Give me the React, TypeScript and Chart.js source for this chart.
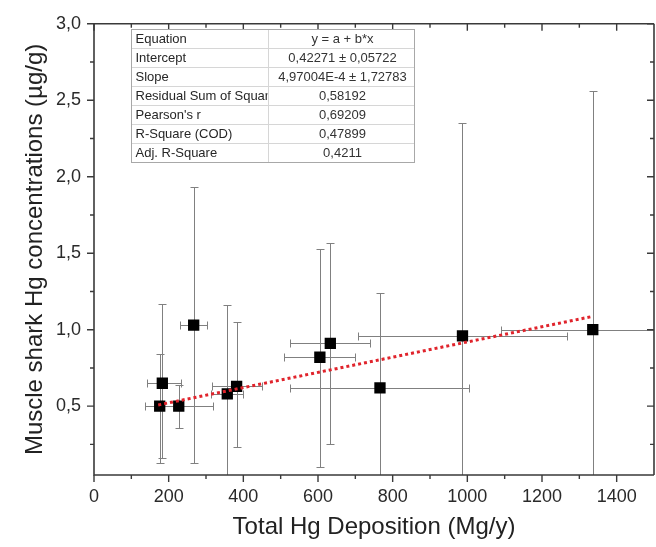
import React, { useEffect, useRef } from "react";
import { Chart, registerables } from "chart.js";

Chart.register(...registerables);

// ---- data ----
const depositionX = [176, 183, 227, 267, 357, 382, 605, 633, 766, 987, 1336];
const sharkHgY = [0.5, 0.65, 0.5, 1.03, 0.58, 0.63, 0.82, 0.91, 0.62, 0.96, 1.0];
const xErrLow = [137, 141, 180, 231, 313, 316, 510, 526, 526, 707, 1091];
const xErrHigh = [215, 234, 318, 303, 398, 450, 698, 740, 1004, 1268, 1700];
const yErrLow = [0.13, 0.16, 0.36, 0.13, 0.0, 0.23, 0.1, 0.25, 0.0, 0.0, 0.0];
const yErrHigh = [0.84, 1.17, 0.64, 1.93, 1.16, 1.05, 1.53, 1.57, 1.24, 2.35, 2.56];

const fitX = [172, 1336];
const fitY = [0.508, 1.087];

const xMajorTicks = [0, 200, 400, 600, 800, 1000, 1200, 1400];
const xMinorTicks = [100, 300, 500, 700, 900, 1100, 1300];
const yMajorTicks = [0.5, 1.0, 1.5, 2.0, 2.5, 3.0];
const yMinorTicks = [0.25, 0.75, 1.25, 1.75, 2.25, 2.75];

const tableLabels = [
  "Equation",
  "Intercept",
  "Slope",
  "Residual Sum of Squares",
  "Pearson's r",
  "R-Square (COD)",
  "Adj. R-Square",
];
const tableValues = [
  "y = a + b*x",
  "0,42271 ± 0,05722",
  "4,97004E-4 ± 1,72783",
  "0,58192",
  "0,69209",
  "0,47899",
  "0,4211",
];

const FONT = "'Liberation Sans', Arial, Helvetica, sans-serif";

const framePlugin = {
  id: "originFrame",
  beforeDatasetsDraw(chart: any) {
    const { ctx, chartArea } = chart;
    const xs = chart.scales.x;
    const ys = chart.scales.y;
    ctx.save();
    ctx.beginPath();
    ctx.rect(chartArea.left, chartArea.top, chartArea.right - chartArea.left, chartArea.bottom - chartArea.top);
    ctx.clip();
    ctx.strokeStyle = "#808080";
    ctx.lineWidth = 1;
    const cap = 4;
    for (let i = 0; i < depositionX.length; i++) {
      const px = Math.round(xs.getPixelForValue(depositionX[i])) + 0.5;
      const py = Math.round(ys.getPixelForValue(sharkHgY[i])) + 0.5;
      const x0 = Math.round(xs.getPixelForValue(xErrLow[i])) + 0.5;
      const x1 = Math.round(xs.getPixelForValue(xErrHigh[i])) + 0.5;
      const y0 = Math.round(ys.getPixelForValue(yErrLow[i])) + 0.5;
      const y1 = Math.round(ys.getPixelForValue(yErrHigh[i])) + 0.5;
      ctx.beginPath();
      ctx.moveTo(px, y0);
      ctx.lineTo(px, y1);
      ctx.moveTo(px - cap, y0);
      ctx.lineTo(px + cap, y0);
      ctx.moveTo(px - cap, y1);
      ctx.lineTo(px + cap, y1);
      ctx.moveTo(x0, py);
      ctx.lineTo(x1, py);
      ctx.moveTo(x0, py - cap);
      ctx.lineTo(x0, py + cap);
      ctx.moveTo(x1, py - cap);
      ctx.lineTo(x1, py + cap);
      ctx.stroke();
    }
    ctx.restore();
  },
  afterDraw(chart: any) {
    const { ctx, chartArea } = chart;
    const xs = chart.scales.x;
    const ys = chart.scales.y;
    const L = chartArea.left, R = chartArea.right, T = chartArea.top, B = chartArea.bottom;
    ctx.save();
    // frame
    ctx.strokeStyle = "#3a3a3a";
    ctx.lineWidth = 1.6;
    ctx.beginPath();
    ctx.moveTo(L, B);
    ctx.lineTo(R, B);
    ctx.moveTo(L, T);
    ctx.lineTo(R, T);
    ctx.moveTo(L, T);
    ctx.lineTo(L, B + 0.8);
    ctx.moveTo(R, T);
    ctx.lineTo(R, B);
    ctx.stroke();
    // ticks
    ctx.lineWidth = 1.4;
    const major = 7, minor = 4;
    ctx.beginPath();
    for (const v of xMajorTicks) {
      const p = xs.getPixelForValue(v);
      ctx.moveTo(p, B); ctx.lineTo(p, B + major);
      ctx.moveTo(p, T); ctx.lineTo(p, T + major);
    }
    for (const v of xMinorTicks) {
      const p = xs.getPixelForValue(v);
      ctx.moveTo(p, B); ctx.lineTo(p, B + minor);
      ctx.moveTo(p, T); ctx.lineTo(p, T + minor);
    }
    for (const v of yMajorTicks) {
      const p = ys.getPixelForValue(v);
      ctx.moveTo(L, p); ctx.lineTo(L - major, p);
      ctx.moveTo(R, p); ctx.lineTo(R - major, p);
    }
    for (const v of yMinorTicks) {
      const p = ys.getPixelForValue(v);
      ctx.moveTo(L, p); ctx.lineTo(L - minor, p);
      ctx.moveTo(R, p); ctx.lineTo(R - minor, p);
    }
    ctx.stroke();

    // statistics table
    const tx0 = 131.5, tx1 = 414.5, tDiv = 268.5, ty0 = 29.5, rowH = 19;
    const n = tableLabels.length;
    const ty1 = ty0 + rowH * n;
    ctx.fillStyle = "#ffffff";
    ctx.fillRect(tx0, ty0, tx1 - tx0, ty1 - ty0);
    ctx.lineWidth = 1;
    ctx.strokeStyle = "#d6d6d6";
    ctx.beginPath();
    for (let i = 1; i < n; i++) {
      ctx.moveTo(tx0, ty0 + i * rowH);
      ctx.lineTo(tx1, ty0 + i * rowH);
    }
    ctx.moveTo(tDiv, ty0);
    ctx.lineTo(tDiv, ty1);
    ctx.stroke();
    ctx.strokeStyle = "#a8a8a8";
    ctx.strokeRect(tx0, ty0, tx1 - tx0, ty1 - ty0);
    ctx.font = `13px ${FONT}`;
    ctx.textBaseline = "middle";
    for (let i = 0; i < n; i++) {
      const cy = ty0 + i * rowH + rowH / 2 + 0.5;
      ctx.save();
      ctx.beginPath();
      ctx.rect(tx0, ty0 + i * rowH, tDiv - tx0 - 1, rowH);
      ctx.clip();
      ctx.fillStyle = "#262626";
      ctx.textAlign = "left";
      ctx.fillText(tableLabels[i], tx0 + 4, cy);
      ctx.restore();
      ctx.fillStyle = "#333333";
      ctx.textAlign = "center";
      ctx.fillText(tableValues[i], (tDiv + tx1) / 2 + 1, cy);
    }
    ctx.restore();
  },
};

export default function App() {
  const ref = useRef<HTMLCanvasElement | null>(null);
  useEffect(() => {
    if (!ref.current) return;
    const chart = new Chart(ref.current, {
      type: "scatter",
      data: {
        datasets: [
          {
            type: "line",
            label: "fit",
            data: fitX.map((x, i) => ({ x, y: fitY[i] })),
            borderColor: "#e0242c",
            borderWidth: 3,
            borderDash: [3, 3],
            pointRadius: 0,
            fill: false,
            order: 0,
          } as any,
          {
            type: "scatter",
            label: "data",
            data: depositionX.map((x, i) => ({ x, y: sharkHgY[i] })),
            pointStyle: "rect",
            pointRadius: 8,
            backgroundColor: "#000000",
            borderColor: "#000000",
            borderWidth: 0,
            order: 1,
          },
        ],
      },
      options: {
        responsive: false,
        animation: false,
        devicePixelRatio: 1,
        events: [],
        layout: { padding: { left: 0, right: 3, top: 22, bottom: 0 } },
        plugins: { legend: { display: false }, tooltip: { enabled: false } },
        scales: {
          x: {
            type: "linear",
            min: 0,
            max: 1500,
            grid: { display: false, drawTicks: false },
            border: { display: false },
            afterBuildTicks: (s: any) => {
              s.ticks = xMajorTicks.map((v) => ({ value: v }));
            },
            afterFit: (s: any) => {
              s.height = 72;
            },
            ticks: {
              autoSkip: false,
              maxRotation: 0,
              padding: 11,
              color: "#2a2a2a",
              font: { family: FONT, size: 18 },
              callback: (v: any) => String(v),
            },
            title: {
              display: true,
              text: "Total Hg Deposition (Mg/y)",
              color: "#222222",
              font: { family: FONT, size: 24 },
              padding: { top: 0, bottom: 5 },
            },
          },
          y: {
            type: "linear",
            min: 0.05,
            max: 3.0,
            grid: { display: false, drawTicks: false },
            border: { display: false },
            afterBuildTicks: (s: any) => {
              s.ticks = yMajorTicks.map((v) => ({ value: v }));
            },
            afterFit: (s: any) => {
              s.width = 94;
            },
            ticks: {
              autoSkip: false,
              padding: 13,
              color: "#2a2a2a",
              font: { family: FONT, size: 18 },
              callback: (v: any) => Number(v).toFixed(1).replace(".", ","),
            },
            title: {
              display: true,
              text: "Muscle shark Hg concentrations (µg/g)",
              color: "#222222",
              font: { family: FONT, size: 24 },
              padding: { top: 21, bottom: 0 },
            },
          },
        },
      },
      plugins: [framePlugin],
    });
    return () => chart.destroy();
  }, []);
  return (
    <div
      style={{
        position: "fixed",
        left: 0,
        top: 0,
        width: 656,
        height: 547,
        overflow: "hidden",
        background: "#ffffff",
      }}
    >
      <canvas ref={ref} width={662} height={547} style={{ width: 662, height: 547, display: "block" }} />
    </div>
  );
}
